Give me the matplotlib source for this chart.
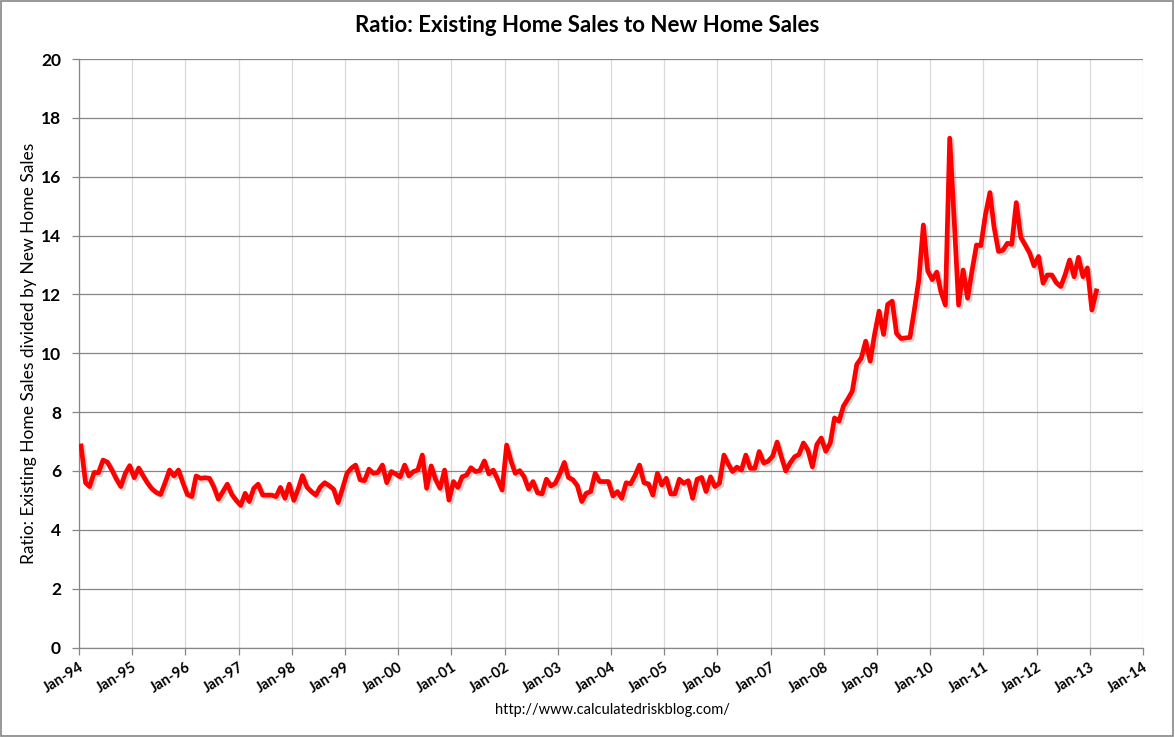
import numpy as np
import pandas as pd
import matplotlib
matplotlib.use("Agg")
import matplotlib.pyplot as plt
import matplotlib.dates as mdates
import matplotlib.patheffects as pe
from matplotlib.patches import Rectangle

# ---- data ----
start_month = "1994-01"
ratio = [
    6.85, 5.6, 5.47, 5.95, 5.94, 6.37, 6.3, 6.03, 5.72, 5.47, 5.92, 6.18,
    5.77, 6.1, 5.85, 5.6, 5.4, 5.27, 5.2, 5.6, 6.03, 5.83, 6.03, 5.6,
    5.2, 5.13, 5.83, 5.75, 5.77, 5.75, 5.45, 5.04, 5.3, 5.55, 5.2, 5.0,
    4.83, 5.24, 4.96, 5.41, 5.55, 5.18, 5.18, 5.18, 5.13, 5.44, 5.07, 5.55,
    5.0, 5.4, 5.84, 5.45, 5.3, 5.18, 5.45, 5.6, 5.5, 5.38, 4.92, 5.4,
    5.92, 6.1, 6.2, 5.7, 5.67, 6.06, 5.92, 5.95, 6.2, 5.6, 5.98, 5.9,
    5.8, 6.2, 5.83, 5.98, 6.03, 6.54, 5.41, 6.17, 5.7, 5.41, 6.03, 5.01,
    5.64, 5.44, 5.8, 5.86, 6.11, 5.98, 6.01, 6.34, 5.9, 6.03, 5.7, 5.35,
    6.88, 6.32, 5.92, 6.01, 5.8, 5.38, 5.64, 5.26, 5.22, 5.72, 5.49, 5.58,
    5.9, 6.29, 5.78, 5.7, 5.5, 4.96, 5.24, 5.3, 5.92, 5.64, 5.64, 5.64,
    5.15, 5.3, 5.07, 5.6, 5.56, 5.85, 6.2, 5.6, 5.56, 5.18, 5.92, 5.52,
    5.75, 5.22, 5.22, 5.72, 5.58, 5.67, 5.07, 5.72, 5.78, 5.3, 5.8, 5.47,
    5.58, 6.54, 6.25, 5.98, 6.13, 6.03, 6.54, 6.09, 6.09, 6.66, 6.27, 6.33,
    6.5, 6.98, 6.5, 6.0, 6.27, 6.48, 6.56, 6.95, 6.7, 6.14, 6.9, 7.12,
    6.67, 6.95, 7.8, 7.69, 8.2, 8.45, 8.71, 9.62, 9.84, 10.41, 9.73, 10.64,
    11.43, 10.64, 11.66, 11.77, 10.67, 10.5, 10.52, 10.54, 11.5, 12.5, 14.36, 12.8,
    12.5, 12.76, 12.1, 11.64, 17.31, 14.5, 11.64, 12.83, 11.87, 12.8, 13.68, 13.66,
    14.7, 15.46, 14.3, 13.46, 13.5, 13.74, 13.7, 15.12, 13.94, 13.68, 13.4, 12.97,
    13.29, 12.38, 12.66, 12.66, 12.4, 12.27, 12.66, 13.17, 12.6, 13.26, 12.6, 12.9,
    11.47, 12.12,
]
tick_years = list(range(1994, 2015))
tick_labels = ["Jan-%02d" % (y % 100) for y in tick_years]
y_ticks = list(range(0, 21, 2))

title = "Ratio: Existing Home Sales to New Home Sales"
ylabel = "Ratio: Existing Home Sales divided by New Home Sales"
source = "http://www.calculatedriskblog.com/"

# ---- plot ----
font = ["Lato", "DejaVu Sans"]
plt.rcParams["font.family"] = font

dates = pd.date_range(start_month + "-01", periods=len(ratio), freq="MS") + pd.Timedelta(days=14)
tick_dates = [pd.Timestamp(f"{y}-01-01") for y in tick_years]

fig = plt.figure(figsize=(11.75, 7.37), dpi=100)
ax = fig.add_axes([79 / 1175, 1 - 647.5 / 737, (1143 - 79) / 1175, (647.5 - 59) / 737])

ax.plot(dates, ratio, color="#ff0000", lw=3.4, solid_joinstyle="round", zorder=3,
        path_effects=[pe.SimpleLineShadow(offset=(1.5, -1.5), shadow_color="#808080", alpha=0.35),
                      pe.Normal()])

ax.set_xlim(tick_dates[0], tick_dates[-1])
ax.set_ylim(0, 20)
ax.set_xticks(tick_dates)
ax.set_xticklabels(tick_labels, rotation=32, ha="right", rotation_mode="anchor",
                   fontsize=10.5, fontweight="bold")
ax.set_yticks(y_ticks)
ax.set_yticklabels([str(v) for v in y_ticks], fontsize=12.5, fontweight="bold")

ax.grid(axis="y", color="#868686", lw=0.9, zorder=0)
ax.grid(axis="x", color="#d9d9d9", lw=0.9, zorder=0)
ax.set_axisbelow(True)
for s in ["top", "right"]:
    ax.spines[s].set_visible(False)
for s in ["left", "bottom"]:
    ax.spines[s].set_color("#868686")
    ax.spines[s].set_linewidth(0.9)
ax.tick_params(axis="both", colors="#868686", labelcolor="black", length=5, width=0.9)
ax.tick_params(axis="y", pad=8)
ax.tick_params(axis="x", pad=4)

ax.set_ylabel(ylabel, fontsize=12.5, labelpad=3)
fig.text(587 / 1175, 1 - 26 / 737, title, ha="center", va="center", fontsize=16, fontweight="bold")
fig.text(612 / 1175, 1 - 710 / 737, source, ha="center", va="center", fontsize=10.5)

fig.patches.append(Rectangle((0.0005, 0.0007), 0.998, 0.998, transform=fig.transFigure,
                             fill=False, edgecolor="#868686", lw=1.2))

fig.savefig("out.png", dpi=100, facecolor="white")
